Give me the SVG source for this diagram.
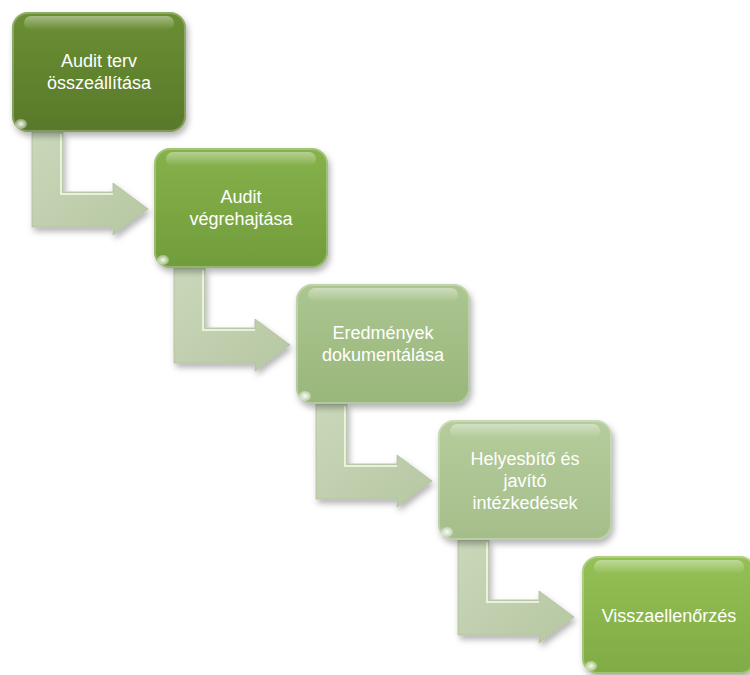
<svg xmlns="http://www.w3.org/2000/svg" width="750" height="675" viewBox="0 0 750 675">
  <defs>
    <style>
      .label { font-family: "Liberation Sans", Arial, sans-serif; font-size: 18px; fill: #ffffff; text-anchor: middle; }
      .gloss { fill: url(#gloss); }
      .rim { fill: none; stroke: #ffffff; stroke-opacity: 0.25; stroke-width: 2; }
      .spot { fill: url(#spotFill); }
      .arrow { fill: url(#arrowFill); stroke: #aebd9c; stroke-width: 0.8; filter: url(#shadow); }
      .bevel { fill: none; stroke: #f4faea; stroke-width: 2; opacity: 0.8; }
    </style>
    <filter id="shadow" x="-20%" y="-20%" width="150%" height="150%">
      <feDropShadow dx="2" dy="4" stdDeviation="3" flood-color="#000000" flood-opacity="0.3"/>
    </filter>
    <linearGradient id="gloss" x1="0" y1="0" x2="0" y2="1">
      <stop offset="0" stop-color="#ffffff" stop-opacity="0.4"/>
      <stop offset="1" stop-color="#ffffff" stop-opacity="0"/>
    </linearGradient>
    <radialGradient id="spotFill">
      <stop offset="0" stop-color="#ffffff" stop-opacity="0.95"/>
      <stop offset="1" stop-color="#ffffff" stop-opacity="0.3"/>
    </radialGradient>
    <linearGradient id="arrowFill" x1="0" y1="0" x2="1" y2="1">
      <stop offset="0" stop-color="#cad8ba"/>
      <stop offset="1" stop-color="#b6c7a2"/>
    </linearGradient>
    <linearGradient id="g1" x1="0" y1="0" x2="0" y2="1">
      <stop offset="0" stop-color="#6b8f32"/>
      <stop offset="1" stop-color="#58792b"/>
    </linearGradient>
    <linearGradient id="g2" x1="0" y1="0" x2="0" y2="1">
      <stop offset="0" stop-color="#86b24b"/>
      <stop offset="1" stop-color="#719c3b"/>
    </linearGradient>
    <linearGradient id="g3" x1="0" y1="0" x2="0" y2="1">
      <stop offset="0" stop-color="#abc690"/>
      <stop offset="1" stop-color="#99b67b"/>
    </linearGradient>
    <linearGradient id="g4" x1="0" y1="0" x2="0" y2="1">
      <stop offset="0" stop-color="#b5cc9c"/>
      <stop offset="1" stop-color="#a5be89"/>
    </linearGradient>
    <linearGradient id="g5" x1="0" y1="0" x2="0" y2="1">
      <stop offset="0" stop-color="#94c055"/>
      <stop offset="1" stop-color="#80ab45"/>
    </linearGradient>
  </defs>

  <!-- bent arrows linking each step to the next -->
  <g id="connectors">
    <g transform="translate(12,12)">
      <path class="arrow" d="M20,120 L51,120 L51,180 L101,180 L101,171 L136,197 L101,223 L101,215 L20,215 Z"/>
      <path class="bevel" d="M49,122 L49,182 L101,182"/>
    </g>
    <g transform="translate(154,148)">
      <path class="arrow" d="M20,120 L51,120 L51,180 L101,180 L101,171 L136,197 L101,223 L101,215 L20,215 Z"/>
      <path class="bevel" d="M49,122 L49,182 L101,182"/>
    </g>
    <g transform="translate(296,284)">
      <path class="arrow" d="M20,120 L51,120 L51,180 L101,180 L101,171 L136,197 L101,223 L101,215 L20,215 Z"/>
      <path class="bevel" d="M49,122 L49,182 L101,182"/>
    </g>
    <g transform="translate(438,420)">
      <path class="arrow" d="M20,120 L51,120 L51,180 L101,180 L101,171 L136,197 L101,223 L101,215 L20,215 Z"/>
      <path class="bevel" d="M49,122 L49,182 L101,182"/>
    </g>
  </g>

  <!-- process steps -->
  <g id="step1">
    <rect x="12" y="12" width="174" height="120" rx="16" fill="url(#g1)" filter="url(#shadow)"/>
    <rect x="13" y="13" width="172" height="118" rx="15" class="rim"/>
    <rect x="24" y="16" width="150" height="14" rx="7" class="gloss"/>
    <ellipse cx="21" cy="124" rx="6" ry="5" class="spot"/>
    <text class="label" x="99" y="67">Audit terv</text>
    <text class="label" x="99" y="89">összeállítása</text>
  </g>

  <g id="step2">
    <rect x="154" y="148" width="174" height="120" rx="16" fill="url(#g2)" filter="url(#shadow)"/>
    <rect x="155" y="149" width="172" height="118" rx="15" class="rim"/>
    <rect x="166" y="152" width="150" height="14" rx="7" class="gloss"/>
    <ellipse cx="163" cy="260" rx="6" ry="5" class="spot"/>
    <text class="label" x="241" y="203">Audit</text>
    <text class="label" x="241" y="225">végrehajtása</text>
  </g>

  <g id="step3">
    <rect x="296" y="284" width="174" height="120" rx="16" fill="url(#g3)" filter="url(#shadow)"/>
    <rect x="297" y="285" width="172" height="118" rx="15" class="rim"/>
    <rect x="308" y="288" width="150" height="14" rx="7" class="gloss"/>
    <ellipse cx="305" cy="396" rx="6" ry="5" class="spot"/>
    <text class="label" x="383" y="339">Eredmények</text>
    <text class="label" x="383" y="361">dokumentálása</text>
  </g>

  <g id="step4">
    <rect x="438" y="420" width="174" height="120" rx="16" fill="url(#g4)" filter="url(#shadow)"/>
    <rect x="439" y="421" width="172" height="118" rx="15" class="rim"/>
    <rect x="450" y="424" width="150" height="14" rx="7" class="gloss"/>
    <ellipse cx="447" cy="532" rx="6" ry="5" class="spot"/>
    <text class="label" x="525" y="465">Helyesbítő és</text>
    <text class="label" x="525" y="487">javító</text>
    <text class="label" x="525" y="509">intézkedések</text>
  </g>

  <g id="step5">
    <rect x="582" y="556" width="174" height="118" rx="16" fill="url(#g5)" filter="url(#shadow)"/>
    <rect x="583" y="557" width="172" height="116" rx="15" class="rim"/>
    <rect x="594" y="560" width="150" height="14" rx="7" class="gloss"/>
    <ellipse cx="591" cy="666" rx="6" ry="5" class="spot"/>
    <text class="label" x="669" y="622">Visszaellenőrzés</text>
  </g>
</svg>
